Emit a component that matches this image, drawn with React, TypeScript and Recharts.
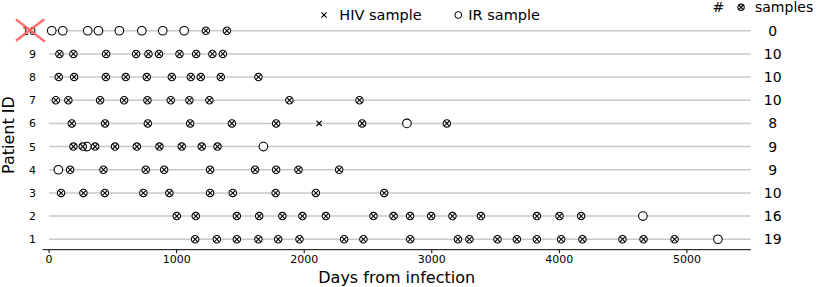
import React from 'react';
import { ScatterChart, Scatter, XAxis, YAxis, ReferenceLine } from 'recharts';

// ---- data ----
const patientIds = [1, 2, 3, 4, 5, 6, 7, 8, 9, 10];
const sampleCounts = [19, 16, 10, 9, 9, 8, 10, 10, 10, 0];
const dayTicks = [0, 1000, 2000, 3000, 4000, 5000];

// days with both HIV and IR samples (⊗)
const bothP1 = [1145, 1315, 1472, 1641, 1796, 1963, 2313, 2464, 2831, 3205, 3295, 3515, 3667, 3824, 4014, 4181, 4495, 4660, 4903];
const bothP2 = [1001, 1150, 1472, 1647, 1829, 1986, 2170, 2543, 2700, 2830, 2995, 3162, 3385, 3824, 4001, 4171];
const bothP3 = [94, 269, 437, 739, 943, 1262, 1440, 1776, 2091, 2627];
const bothP4 = [165, 426, 758, 902, 1262, 1615, 1780, 1955, 2274];
const bothP5 = [191, 264, 361, 517, 688, 865, 1040, 1197, 1320];
const bothP6 = [178, 439, 774, 1106, 1433, 1780, 2454, 3118];
const bothP7 = [53, 151, 400, 588, 771, 954, 1100, 1257, 1884, 2433];
const bothP8 = [76, 196, 445, 601, 766, 962, 1111, 1189, 1346, 1641];
const bothP9 = [81, 191, 447, 682, 779, 862, 1022, 1153, 1280, 1362];
const bothP10 = [1229, 1394];

// IR-only samples (○)
const irP1 = [5243];
const irP2 = [4655];
const irP4 = [73];
const irP5 = [296, 1680];
const irP6 = [2805];
const irP10 = [21, 107, 303, 387, 551, 727, 891, 1059];

// HIV-only samples (×)
const hivP6 = [2117];

const bothByPatient = [bothP1, bothP2, bothP3, bothP4, bothP5, bothP6, bothP7, bothP8, bothP9, bothP10];
const irByPatient = [irP1, irP2, [], irP4, irP5, irP6, [], [], [], irP10];
const hivByPatient = [[], [], [], [], [], hivP6, [], [], [], []];

const toPoints = (lists: number[][]) =>
  lists.flatMap((days, i) => days.map((day) => ({ day, pid: patientIds[i] })));

const bothData = toPoints(bothByPatient);
const irData = toPoints(irByPatient);
const hivData = toPoints(hivByPatient);
const countData = patientIds.map((pid, i) => ({ day: 0, pid, count: sampleCounts[i] }));

const FONT = '"DejaVu Sans", sans-serif';

const CrossCircle = ({ cx, cy, r = 3.7 }: { cx: number; cy: number; r?: number }) => {
  const d = r * 0.72;
  return (
    <g>
      <circle cx={cx} cy={cy} r={r} fill="#fff" stroke="#000" strokeWidth={1.1} />
      <line x1={cx - d} y1={cy - d} x2={cx + d} y2={cy + d} stroke="#000" strokeWidth={1.1} />
      <line x1={cx - d} y1={cy + d} x2={cx + d} y2={cy - d} stroke="#000" strokeWidth={1.1} />
    </g>
  );
};

const OpenCircle = ({ cx, cy, r = 4.3 }: { cx: number; cy: number; r?: number }) => (
  <circle cx={cx} cy={cy} r={r} fill="#fff" stroke="#000" strokeWidth={1.1} />
);

const XMark = ({ cx, cy, s = 2.6 }: { cx: number; cy: number; s?: number }) => (
  <g>
    <line x1={cx - s} y1={cy - s} x2={cx + s} y2={cy + s} stroke="#000" strokeWidth={1.2} />
    <line x1={cx - s} y1={cy + s} x2={cx + s} y2={cy - s} stroke="#000" strokeWidth={1.2} />
  </g>
);

const LeftTick = (props: any) => {
  const { x, y, payload } = props;
  return (
    <g>
      <text x={x} y={y} dy="0.36em" textAnchor="end" fontSize={11} fontFamily={FONT} fill="#000">
        {payload.value}
      </text>
      {payload.value === 10 && (
        <g stroke="#ff5f5f" strokeOpacity={0.9} strokeWidth={2.4}>
          <line x1={x - 20} y1={y - 11.4} x2={x + 9} y2={y + 11} />
          <line x1={x - 20} y1={y + 10} x2={x + 8.3} y2={y - 11.4} />
        </g>
      )}
    </g>
  );
};

const RightTick = (props: any) => {
  const { x, y, payload } = props;
  const idx = patientIds.indexOf(payload.value);
  return (
    <text x={x} y={y} dy="0.36em" textAnchor="middle" fontSize={14} fontFamily={FONT} fill="#000">
      {sampleCounts[idx]}
    </text>
  );
};

export default function App() {
  return (
    <div style={{ position: 'absolute', left: 0, top: 0, width: 830, height: 287 }}>
      <ScatterChart
        width={830}
        height={287}
        margin={{ top: 20.3, right: 19.3, bottom: 0, left: 0 }}
      >
        <XAxis
          type="number"
          dataKey="day"
          domain={[-50, 5500]}
          ticks={dayTicks}
          allowDataOverflow
          height={37.3}
          axisLine={{ stroke: '#000', strokeWidth: 1 }}
          tickLine={{ stroke: '#000', strokeWidth: 1 }}
          tickSize={3.5}
          tickMargin={2}
          tick={{ fontSize: 11, fontFamily: FONT, fill: '#000' }}
          label={{
            value: 'Days from infection',
            position: 'insideBottom',
            offset: 4,
            fontSize: 16,
            fontFamily: FONT,
            fill: '#000',
          }}
        />
        <YAxis
          yAxisId="left"
          type="number"
          dataKey="pid"
          domain={[0.55, 10.45]}
          ticks={patientIds}
          allowDataOverflow
          width={42.7}
          axisLine={false}
          tickLine={false}
          tickSize={0}
          tickMargin={6.7}
          tick={<LeftTick />}
        />
        <YAxis
          yAxisId="right"
          orientation="right"
          type="number"
          dataKey="pid"
          domain={[0.55, 10.45]}
          ticks={patientIds}
          allowDataOverflow
          width={60}
          axisLine={false}
          tickLine={false}
          tickSize={0}
          tickMargin={22}
          tick={<RightTick />}
        />
        {patientIds.map((p) => (
          <ReferenceLine
            key={p}
            yAxisId="left"
            segment={[
              { x: 0, y: p },
              { x: 5500, y: p },
            ]}
            stroke="#c8c8c8"
            strokeWidth={1.5}
          />
        ))}
        <Scatter
          yAxisId="right"
          data={countData}
          isAnimationActive={false}
          shape={() => <g />}
        />
        <Scatter
          yAxisId="left"
          data={irData}
          isAnimationActive={false}
          shape={(p: any) => <OpenCircle cx={p.cx} cy={p.cy} />}
        />
        <Scatter
          yAxisId="left"
          data={bothData}
          isAnimationActive={false}
          shape={(p: any) => <CrossCircle cx={p.cx} cy={p.cy} />}
        />
        <Scatter
          yAxisId="left"
          data={hivData}
          isAnimationActive={false}
          shape={(p: any) => <XMark cx={p.cx} cy={p.cy} />}
        />
      </ScatterChart>
      <svg
        width={830}
        height={287}
        style={{ position: 'absolute', left: 0, top: 0, pointerEvents: 'none' }}
        fontFamily={FONT}
      >
        <text x={8} y={135} transform="rotate(-90 8 135)" dy="0.36em" textAnchor="middle" fontSize={16} fill="#000">
          Patient ID
        </text>
        <XMark cx={324} cy={15} s={2.6} />
        <text x={339.3} y={20} fontSize={14.5} fill="#000">HIV sample</text>
        <circle cx={458.3} cy={15} r={3.4} fill="#fff" stroke="#000" strokeWidth={1} />
        <text x={468.3} y={20} fontSize={14.5} fill="#000">IR sample</text>
        <text x={718.3} y={11.5} textAnchor="middle" fontSize={14} fill="#000">#</text>
        <CrossCircle cx={741} cy={7.3} r={3.2} />
        <text x={755} y={11.5} fontSize={14} fill="#000">samples</text>
      </svg>
    </div>
  );
}
